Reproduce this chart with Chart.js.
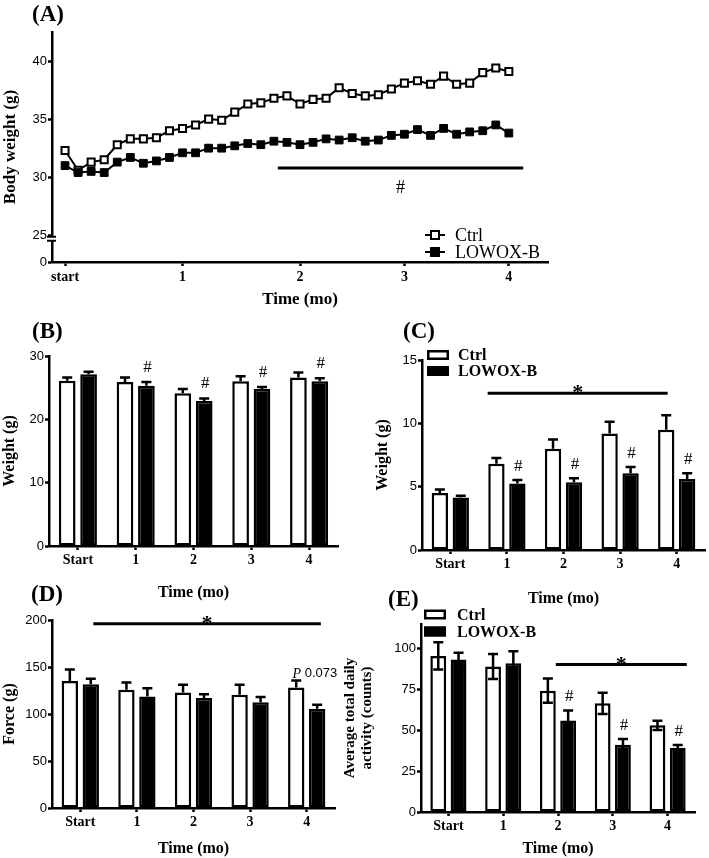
<!DOCTYPE html>
<html>
<head>
<meta charset="utf-8">
<script src="https://cdn.jsdelivr.net/npm/chart.js@4.4.0/dist/chart.umd.min.js"></script>
<style>
  body { margin: 0; background: #fff; width: 709px; height: 858px; position: relative; overflow: hidden;
         font-family: 'Liberation Serif', 'Times New Roman', serif; }
  .pane { position: absolute; }
  .tag { position: absolute; font-weight: bold; font-size: 23px; line-height: 1; color: #000; }
</style>
</head>
<body>
<div class="pane" style="left:0;top:0"><canvas id="chartA" width="560" height="310"></canvas></div>
<div class="pane" style="left:0;top:330px"><canvas id="chartB" width="350" height="272"></canvas></div>
<div class="pane" style="left:370px;top:330px"><canvas id="chartC" width="339" height="278"></canvas></div>
<div class="pane" style="left:0;top:600px"><canvas id="chartD" width="345" height="258"></canvas></div>
<div class="pane" style="left:340px;top:600px"><canvas id="chartE" width="369" height="258"></canvas></div>
<div class="tag" style="left:32px;top:2px">(A)</div>
<div class="tag" style="left:32px;top:319px">(B)</div>
<div class="tag" style="left:403px;top:319px">(C)</div>
<div class="tag" style="left:31px;top:582px">(D)</div>
<div class="tag" style="left:388px;top:587px">(E)</div>

<script>
const serif = "'Liberation Serif', 'Times New Roman', serif";
const sans = "'Liberation Sans', Arial, sans-serif";

const seriesNames = ['Ctrl', 'LOWOX-B'];
const months = ['Start', '1', '2', '3', '4'];

// (A) weekly body weight (g)
const aCtrl = [32.3, 30.6, 31.3, 31.5, 32.8, 33.3, 33.3, 33.4, 34.0, 34.2, 34.5, 35.0, 34.9, 35.6, 36.3, 36.4, 36.8, 37.0,
               36.3, 36.7, 36.8, 37.7, 37.2, 37.0, 37.1, 37.6, 38.1, 38.3, 38.0, 38.7, 38.0, 38.1, 39.0, 39.4, 39.1];
const aLowox = [31.0, 30.4, 30.5, 30.4, 31.3, 31.7, 31.2, 31.4, 31.7, 32.1, 32.1, 32.5, 32.5, 32.7, 32.9, 32.8, 33.1, 33.0,
                32.8, 33.0, 33.3, 33.2, 33.4, 33.1, 33.2, 33.6, 33.7, 34.1, 33.6, 34.2, 33.7, 33.9, 34.0, 34.5, 33.8];
const aTickPos = [0, 9, 18, 26, 34];
const aTickLabels = ['start', '1', '2', '3', '4'];
const aYTicks = [25, 30, 35, 40];
const aYBreakLow = 22.7;   // drawn as "0" below the axis break

// (B) body weight per month
const bCtrl = [26.1, 25.9, 24.1, 26.0, 26.6];
const bCtrlErr = [0.5, 0.7, 0.7, 0.8, 0.8];
const bLowox = [27.1, 25.3, 22.9, 24.8, 26.0];
const bLowoxErr = [0.4, 0.6, 0.4, 0.3, 0.5];
const bHash = ['', '#', '#', '#', '#'];

// (C) weight
const cCtrl = [4.5, 6.8, 8.0, 9.2, 9.5];
const cCtrlErr = [0.27, 0.47, 0.73, 0.92, 1.13];
const cLowox = [4.15, 5.25, 5.35, 6.05, 5.6];
const cLowoxErr = [0.13, 0.27, 0.32, 0.5, 0.45];
const cHash = ['', '#', '#', '#', '#'];

// (D) grip force
const dCtrl = [135.0, 125.7, 122.9, 120.4, 128.2];
const dCtrlErr = [12.4, 7.8, 8.1, 10.6, 7.4];
const dLowox = [131.7, 118.6, 116.9, 112.6, 105.5];
const dLowoxErr = [5.7, 8.9, 4.2, 5.4, 4.3];

// (E) daily activity
const eCtrl = [95.5, 89.0, 74.2, 66.5, 53.0];
const eCtrlErr = [8.4, 7.6, 7.4, 6.5, 2.8];
const eLowox = [93.3, 91.0, 56.0, 41.2, 39.3];
const eLowoxErr = [4.1, 7.3, 6.1, 3.4, 1.7];
const eHash = ['', '', '#', '#', '#'];

// extra marks: error bars, #, significance bars, legends, axis break
const figPlugin = {
  id: 'fig',
  afterDatasetsDraw(chart, args, opts) {
    const ctx = chart.ctx, xs = chart.scales.x, ys = chart.scales.y, area = chart.chartArea;
    ctx.save();
    ctx.strokeStyle = '#000';
    ctx.fillStyle = '#000';

    chart.data.datasets.forEach((ds, di) => {
      if (!ds.errors) return;
      chart.getDatasetMeta(di).data.forEach((bar, i) => {
        const top = ys.getPixelForValue(ds.data[i] + ds.errors[i]);
        const bot = opts.bothWays ? ys.getPixelForValue(ds.data[i] - ds.errors[i]) : bar.y;
        ctx.lineWidth = 2.5;
        ctx.beginPath();
        ctx.moveTo(bar.x, bot); ctx.lineTo(bar.x, top);
        ctx.moveTo(bar.x - 5, top); ctx.lineTo(bar.x + 5, top);
        if (opts.bothWays) { ctx.moveTo(bar.x - 5, bot); ctx.lineTo(bar.x + 5, bot); }
        ctx.stroke();
      });
    });

    if (opts.hashes) {
      const ds = chart.data.datasets[1], meta = chart.getDatasetMeta(1);
      ctx.font = '17px ' + serif;
      ctx.textAlign = 'center';
      ctx.textBaseline = 'alphabetic';
      opts.hashes.forEach((h, i) => {
        if (!h) return;
        const top = ys.getPixelForValue(ds.data[i] + ds.errors[i]);
        ctx.fillText(h, meta.data[i].x + 1, top - opts.hashGap);
      });
    }

    if (opts.sig) {
      const s = opts.sig, py = ys.getPixelForValue(s.y);
      ctx.lineWidth = 3;
      ctx.beginPath();
      ctx.moveTo(xs.getPixelForValue(s.from), py);
      ctx.lineTo(xs.getPixelForValue(s.to), py);
      ctx.stroke();
      ctx.font = s.font;
      ctx.textAlign = 'center';
      ctx.textBaseline = 'alphabetic';
      ctx.fillText(s.text, xs.getPixelForValue((s.from + s.to) / 2), py + s.dy);
    }

    if (opts.note) {
      const n = opts.note;
      let px = xs.getPixelForValue(n.x);
      const py = ys.getPixelForValue(n.y);
      ctx.textAlign = 'left';
      ctx.textBaseline = 'middle';
      ctx.font = 'italic 14px ' + serif;
      ctx.fillText(n.label, px, py);
      px += ctx.measureText(n.label).width;
      ctx.font = '13px ' + sans;
      ctx.fillText(n.value, px, py);
    }

    if (opts.legend) {
      const lg = opts.legend;
      chart.data.datasets.forEach((ds, i) => {
        const ry = area.top + lg.dy + i * lg.row;
        if (lg.style === 'line') {
          const cx = area.right + lg.dx;
          ctx.lineWidth = 2;
          ctx.beginPath(); ctx.moveTo(cx - 10, ry); ctx.lineTo(cx + 10, ry); ctx.stroke();
          ctx.fillStyle = ds.pointBackgroundColor;
          ctx.fillRect(cx - 4, ry - 4, 8, 8);
          ctx.strokeRect(cx - 4, ry - 4, 8, 8);
          ctx.fillStyle = '#000';
          ctx.font = '18px ' + serif;
          ctx.textAlign = 'left';
          ctx.textBaseline = 'middle';
          ctx.fillText(ds.label, cx + 20, ry + 1);
        } else {
          const bx = area.left + lg.dx;
          ctx.fillStyle = ds.backgroundColor;
          ctx.fillRect(bx, ry - 5, 22, 10);
          ctx.lineWidth = 2.5;
          ctx.strokeRect(bx + 1.25, ry - 3.75, 19.5, 7.5);
          ctx.fillStyle = '#000';
          ctx.font = 'bold 16px ' + serif;
          ctx.textAlign = 'left';
          ctx.textBaseline = 'middle';
          ctx.fillText(ds.label, area.left + lg.tx, ry + 1);
        }
      });
    }

    if (opts.axisBreak) {
      const py = ys.getPixelForValue(opts.axisBreak), l = area.left;
      ctx.fillStyle = '#fff';
      ctx.fillRect(l - 3, py + 2, 6, 3);
      ctx.lineWidth = 2;
      ctx.beginPath();
      ctx.moveTo(l - 5, py + 1.5); ctx.lineTo(l + 4, py + 1.5);
      ctx.moveTo(l - 5, py + 5.5); ctx.lineTo(l + 4, py + 5.5);
      ctx.stroke();
    }
    ctx.restore();
  }
};
Chart.register(figPlugin);

function axisBase(tickFont) {
  return {
    grid: { display: true, drawOnChartArea: false, offset: false, tickLength: 4, tickWidth: 2.5, tickColor: '#000' },
    border: { display: true, color: '#000', width: 2.5 },
    ticks: { font: tickFont, color: '#000', padding: 2, maxRotation: 0, autoSkip: false }
  };
}
const xTickFont = { family: serif, size: 14, weight: 'bold' };
const yTickFont = { family: sans, size: 13 };

function barDatasets(ctrl, ctrlErr, lowox, lowoxErr) {
  const common = { borderColor: '#000', borderWidth: 2.5, borderSkipped: false, categoryPercentage: 0.74, barPercentage: 0.78 };
  return [
    Object.assign({ label: seriesNames[0], data: ctrl, errors: ctrlErr, backgroundColor: '#fff' }, common),
    Object.assign({ label: seriesNames[1], data: lowox, errors: lowoxErr, backgroundColor: '#000' }, common)
  ];
}

function barChart(id, p) {
  const x = axisBase(xTickFont);
  x.title = { display: true, text: 'Time (mo)', color: '#000', font: { family: serif, size: 16, weight: 'bold' }, padding: { top: 0, bottom: 0 } };
  x.afterFit = s => { s.height = p.xh; };
  const y = axisBase(yTickFont);
  y.min = 0;
  y.max = p.yMax;
  y.ticks.padding = 1;
  y.afterBuildTicks = s => { s.ticks = p.yTicks.map(v => ({ value: v })); };
  y.title = { display: true, text: p.yTitle, color: '#000',
              font: { family: serif, size: p.yTitleSize || 16, weight: 'bold', lineHeight: p.yTitleLH || 1.2 },
              padding: { top: p.yTitlePad, bottom: 0 } };
  y.afterFit = s => { s.width = p.yw; };
  return new Chart(document.getElementById(id), {
    type: 'bar',
    data: { labels: months, datasets: p.datasets },
    options: {
      responsive: false, animation: false,
      layout: { padding: p.pad },
      plugins: { legend: { display: false }, tooltip: { enabled: false }, fig: p.marks },
      scales: { x: x, y: y }
    }
  });
}

// (A) line chart
(function () {
  const x = axisBase(xTickFont);
  x.type = 'linear';
  x.min = -1; x.max = 37;
  x.afterBuildTicks = s => { s.ticks = aTickPos.map(v => ({ value: v })); };
  x.ticks.callback = v => aTickLabels[aTickPos.indexOf(v)];
  x.ticks.padding = 3;
  x.title = { display: true, text: 'Time (mo)', color: '#000', font: { family: serif, size: 17, weight: 'bold' }, padding: { top: 0, bottom: 0 } };
  x.afterFit = s => { s.height = 48; };
  const y = axisBase(yTickFont);
  y.min = aYBreakLow; y.max = 42.5;
  y.ticks.padding = 1;
  y.afterBuildTicks = s => { s.ticks = [aYBreakLow].concat(aYTicks).map(v => ({ value: v })); };
  y.ticks.callback = v => (v === aYBreakLow ? '0' : v);
  y.title = { display: true, text: 'Body weight (g)', color: '#000', font: { family: serif, size: 17, weight: 'bold' }, padding: { top: 0, bottom: 0 } };
  y.afterFit = s => { s.width = 52; };

  const lineStyle = { borderColor: '#000', borderWidth: 2, pointStyle: 'rect', pointBorderColor: '#000', tension: 0, fill: false };
  new Chart(document.getElementById('chartA'), {
    type: 'line',
    data: {
      datasets: [
        Object.assign({ label: seriesNames[1], data: aLowox.map((v, i) => ({ x: i, y: v })),
                        pointBackgroundColor: '#000', pointRadius: 5.5, pointBorderWidth: 1 }, lineStyle),
        Object.assign({ label: seriesNames[0], data: aCtrl.map((v, i) => ({ x: i, y: v })),
                        pointBackgroundColor: '#fff', pointRadius: 5, pointBorderWidth: 2 }, lineStyle)
      ]
    },
    options: {
      responsive: false, animation: false,
      layout: { padding: { top: 32, right: 12, left: 0, bottom: 0 } },
      plugins: {
        legend: { display: false }, tooltip: { enabled: false },
        fig: {
          sig: { from: 16.3, to: 35.1, y: 30.8, text: '#', font: '18px ' + serif, dy: 25 },
          axisBreak: 25
        }
      },
      scales: { x: x, y: y }
    },
    plugins: [{
      id: 'legendA',
      afterDraw(chart) {
        // legend order Ctrl then LOWOX-B
        const ctx = chart.ctx, area = chart.chartArea;
        const items = [chart.data.datasets[1], chart.data.datasets[0]];
        ctx.save();
        items.forEach((ds, i) => {
          const cx = area.right - 113, ry = area.bottom - 27 + i * 17;
          ctx.strokeStyle = '#000';
          ctx.lineWidth = 2;
          ctx.beginPath(); ctx.moveTo(cx - 10, ry); ctx.lineTo(cx + 10, ry); ctx.stroke();
          ctx.fillStyle = ds.pointBackgroundColor;
          ctx.fillRect(cx - 4, ry - 4, 8, 8);
          ctx.strokeRect(cx - 4, ry - 4, 8, 8);
          ctx.fillStyle = '#000';
          ctx.font = '18px ' + serif;
          ctx.textAlign = 'left';
          ctx.textBaseline = 'middle';
          ctx.fillText(ds.label, cx + 20, ry + 1);
        });
        ctx.restore();
      }
    }]
  });
})();

barChart('chartB', {
  datasets: barDatasets(bCtrl, bCtrlErr, bLowox, bLowoxErr),
  yMax: 30, yTicks: [0, 10, 20, 30], yTitle: 'Weight (g)', yTitlePad: 0,
  yw: 49, xh: 56, pad: { top: 26, right: 12, left: 0, bottom: 0 },
  marks: { hashes: bHash, hashGap: 10 }
});

barChart('chartC', {
  datasets: barDatasets(cCtrl, cCtrlErr, cLowox, cLowoxErr),
  yMax: 15, yTicks: [0, 5, 10, 15], yTitle: 'Weight (g)', yTitlePad: 3,
  yw: 52, xh: 58, pad: { top: 30, right: 4, left: 0, bottom: 0 },
  marks: {
    hashes: cHash, hashGap: 9,
    sig: { from: 0.66, to: 3.84, y: 12.37, text: '*', font: 'bold 22px ' + serif, dy: 6 },
    legend: { style: 'box', dx: 5, tx: 36, dy: -5, row: 16 }
  }
});

barChart('chartD', {
  datasets: barDatasets(dCtrl, dCtrlErr, dLowox, dLowoxErr),
  yMax: 200, yTicks: [0, 50, 100, 150, 200], yTitle: 'Force (g)', yTitlePad: 0,
  yw: 52, xh: 50, pad: { top: 20, right: 10, left: 0, bottom: 0 },
  marks: {
    sig: { from: 0.23, to: 4.25, y: 196, text: '*', font: 'bold 22px ' + serif, dy: 6 },
    note: { x: 3.75, y: 142.7, label: 'P', value: ' 0.073' }
  }
});

barChart('chartE', {
  datasets: barDatasets(eCtrl, eCtrlErr, eLowox, eLowoxErr),
  yMax: 115, yTicks: [0, 25, 50, 75, 100],
  yTitle: ['Average total daily', 'activity (counts)'], yTitleSize: 15, yTitleLH: 1.1, yTitlePad: 2,
  yw: 81, xh: 46, pad: { top: 24, right: 14, left: 0, bottom: 0 },
  marks: {
    bothWays: true,
    hashes: eHash, hashGap: 9,
    sig: { from: 1.96, to: 4.35, y: 90.2, text: '*', font: 'bold 22px ' + serif, dy: 6 },
    legend: { style: 'box', dx: 3, tx: 36, dy: -9.5, row: 17 }
  }
});
</script>
</body>
</html>
